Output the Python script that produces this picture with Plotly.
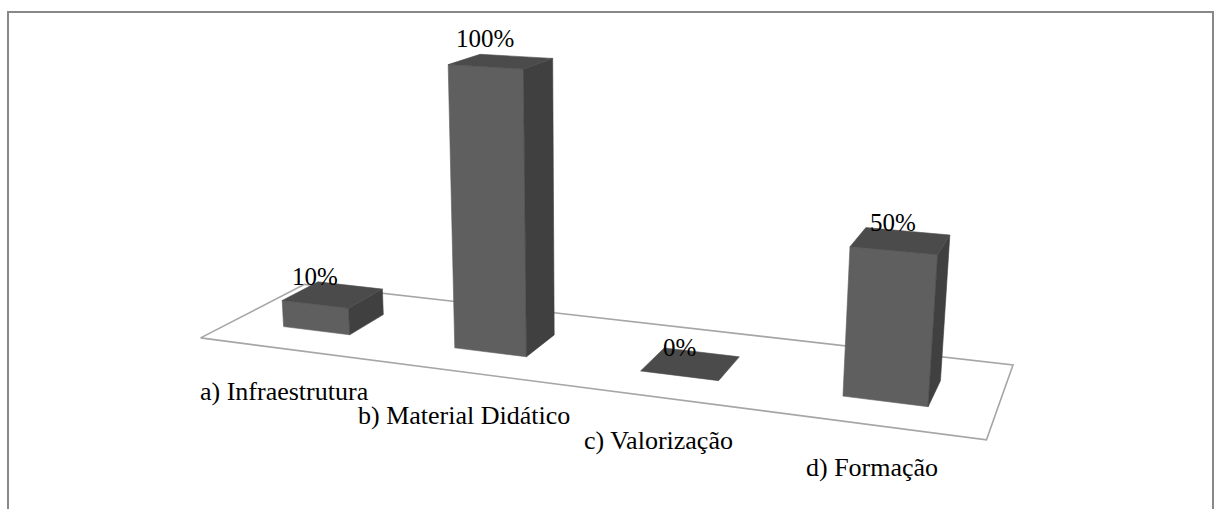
import numpy as np
import plotly.graph_objects as go

# ---- data ----
categories = ["a) Infraestrutura", "b) Material Didático", "c) Valorização", "d) Formação"]
values = [10, 100, 0, 50]
value_labels = ["10%", "100%", "0%", "50%"]
VALUE_MAX = 100

# ---- perspective camera (world X = category slot, h = value/max, Z = depth) ----
CAMERA = np.array([
    [156.79, -27.8687, 138.997, 200.613],
    [7.77405, -281.371, -20.7359, 337.914],
    [-0.0402194, -0.047673, 0.115243, 1.0],
])
BAR_HALF_WIDTH = 0.1979
BAR_Z_FRONT, BAR_Z_BACK = 0.3025, 0.6591
N_SLOTS = len(categories)

def proj(X, h, Z):
    q = CAMERA @ np.array([X, h, Z, 1.0])
    return q[0] / q[2], q[1] / q[2]

fig = go.Figure()

def poly(pts, fill=None, line=None):
    xs = [p[0] for p in pts] + [pts[0][0]]
    ys = [p[1] for p in pts] + [pts[0][1]]
    fig.add_trace(go.Scatter(x=xs, y=ys, mode='lines',
                             fill='toself' if fill else None, fillcolor=fill,
                             line=line or dict(width=0.6, color=fill),
                             hoverinfo='skip', showlegend=False))

# floor outline
poly([proj(0, 0, 0), proj(N_SLOTS, 0, 0), proj(N_SLOTS, 0, 1), proj(0, 0, 1)],
     None, dict(color='#a6a6a6', width=1.6))

FRONT, SIDE, TOP = '#5f5f5f', '#404040', '#4b4b4b'
for i, v in enumerate(values):
    h = v / VALUE_MAX
    c = i + 0.5
    x0, x1 = c - BAR_HALF_WIDTH, c + BAR_HALF_WIDTH
    z0, z1 = BAR_Z_FRONT, BAR_Z_BACK
    if h > 0:
        poly([proj(x0, 0, z0), proj(x1, 0, z0), proj(x1, h, z0), proj(x0, h, z0)], FRONT)
        poly([proj(x1, 0, z0), proj(x1, 0, z1), proj(x1, h, z1), proj(x1, h, z0)], SIDE)
    poly([proj(x0, h, z0), proj(x1, h, z0), proj(x1, h, z1), proj(x0, h, z1)], TOP)

    lx, ly = proj(c, h, z0)
    fig.add_annotation(x=lx, y=ly - 28, text=value_labels[i], showarrow=False,
                       xanchor='center', yanchor='middle',
                       font=dict(family='Liberation Serif', size=25, color='#000'))
    cx, cy = proj(c, 0, 0)
    fig.add_annotation(x=cx, y=cy + 43, text=categories[i], showarrow=False,
                       xanchor='center', yanchor='middle',
                       font=dict(family='Liberation Serif', size=26, color='#000'))

# chart frame
fig.add_shape(type='path', path='M 8 520 L 8 12 L 1213 12 L 1213 520',
              line=dict(color='#888888', width=2))

fig.update_layout(width=1215, height=509, autosize=False,
                  margin=dict(l=0, r=0, t=0, b=0),
                  paper_bgcolor='white', plot_bgcolor='white',
                  xaxis=dict(range=[0, 1215], visible=False, fixedrange=True),
                  yaxis=dict(range=[509, 0], visible=False, fixedrange=True))
fig.write_html("out.html", post_script="document.body.style.margin='0';",
               config={'displayModeBar': False})
